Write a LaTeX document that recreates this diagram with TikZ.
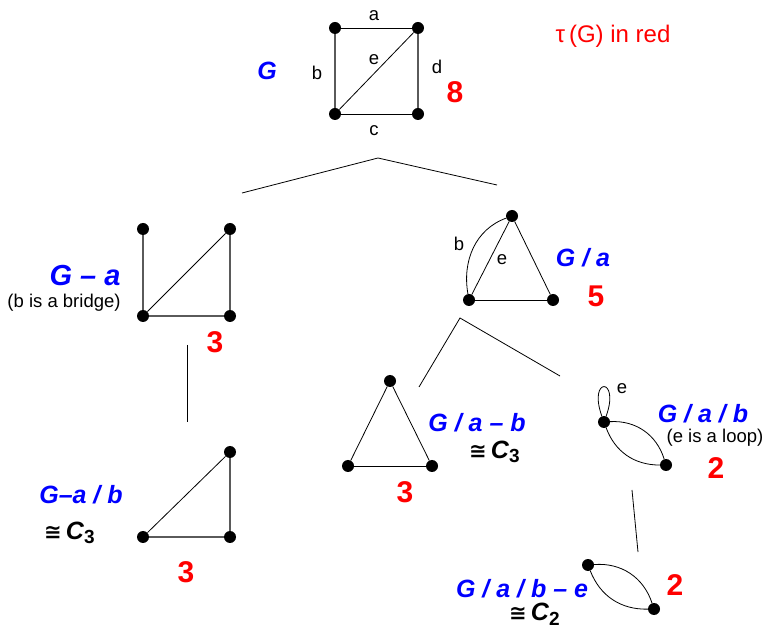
\documentclass[tikz,border=0pt]{standalone}
\usepackage{fontspec}
\setmainfont{Liberation Sans}
\newfontfamily\dejavu{DejaVu Sans}
\definecolor{pblue}{RGB}{0,0,255}
\definecolor{pred}{RGB}{255,0,0}
\definecolor{edgegray}{RGB}{90,90,90}
\tikzset{
  vtx/.style={circle,fill=black,inner sep=0pt,minimum size=12pt},
  gedge/.style={draw=edgegray,line width=1.3pt},
  tedge/.style={draw=black,line width=0.8pt},
  tree/.style={draw=black,line width=0.8pt},
  elab/.style={font=\fontsize{18.5}{20}\selectfont,inner sep=0pt},
  glabel/.style={font=\fontsize{25}{28}\selectfont\bfseries\itshape,text=pblue,inner sep=0pt},
  cnt/.style={font=\fontsize{30}{32}\selectfont\bfseries,text=pred,inner sep=0pt},
  note/.style={font=\fontsize{18.5}{20}\selectfont,inner sep=0pt},
  iso/.style={font=\fontsize{25}{28}\selectfont\bfseries\itshape,inner sep=0pt}
}
\newcommand{\isoC}[1]{{\dejavu\upshape\bfseries\fontsize{21}{24}\selectfont ≅}\,C\raisebox{-0.35ex}{\upshape\fontsize{19}{20}\selectfont #1}}
\begin{document}
\begin{tikzpicture}[x=1pt,y=1pt]
\useasboundingbox (0,0) rectangle (764,-628);
% ---------- G ----------
\node[vtx] (g1) at (335,-28) {};
\node[vtx] (g2) at (418,-28) {};
\node[vtx] (g3) at (335,-114) {};
\node[vtx] (g4) at (418,-114) {};
\draw[tedge] (g1) -- (g2);
\draw[gedge] (g1) -- (g3);
\draw[tedge] (g3) -- (g4);
\draw[gedge] (g2) -- (g4);
\draw[tedge] (g3) -- (g2);
\node[elab] (la) at (374,-16) {a};
\node[elab] (lb) at (317,-73) {b};
\node[elab] (le) at (374,-60) {e};
\node[elab] (ld) at (437,-67) {d};
\node[elab] (lc) at (374,-131) {c};
\node[glabel] (nG) at (267,-71) {G};
\node[cnt] (cG) at (455,-92) {8};
\node[font=\fontsize{24}{26}\selectfont,text=pred,inner sep=0pt] (tau) at (613,-36) {τ\,(G) in red};
% tree connector top
\coordinate (t0) at (378,-158);
\coordinate (t1) at (242,-193);
\coordinate (t2) at (497,-185);
\draw[tree] (t1) -- (t0) -- (t2);
% ---------- G - a ----------
\node[vtx] (a1) at (143,-229) {};
\node[vtx] (a2) at (230,-229) {};
\node[vtx] (a3) at (143,-316) {};
\node[vtx] (a4) at (230,-316) {};
\draw[gedge] (a1) -- (a3);
\draw[gedge] (a3) -- (a4);
\draw[gedge] (a2) -- (a4);
\draw[tedge] (a3) -- (a2);
\node[glabel,font=\fontsize{29}{32}\selectfont\bfseries\itshape] (nA) at (85,-276) {G – a};
\node[note] (bA) at (64,-303) {(b is a bridge)};
\node[cnt] (cA) at (215,-342) {3};
\coordinate (u1) at (187,-345);
\coordinate (u2) at (187,-422);
\draw[tree] (u1) -- (u2);
% ---------- G - a / b ----------
\node[vtx] (c1) at (230,-452) {};
\node[vtx] (c2) at (143,-537) {};
\node[vtx] (c3) at (230,-537) {};
\draw[tedge] (c2) -- (c1);
\draw[gedge] (c1) -- (c3);
\draw[gedge] (c2) -- (c3);
\node[glabel] (nC) at (81,-495) {G–a / b};
\node[iso,anchor=west] (iC) at (44,-533) {\isoC{3}};
\node[cnt] (cC) at (186,-572) {3};
% ---------- G / a ----------
\node[vtx] (b1) at (512,-216) {};
\node[vtx] (b2) at (469,-300) {};
\node[vtx] (b3) at (553,-300) {};
\draw[tedge] (b1) -- (b2);
\draw[tedge] (b1) -- (b3);
\draw[tedge] (b2) -- (b3);
\draw[tedge] (b1) to[out=200,in=100] (b2);
\node[elab] (lb2) at (459,-244) {b};
\node[elab] (le2) at (502,-260) {e};
\node[glabel] (nB) at (583,-258) {G / a};
\node[cnt] (cB) at (596,-296) {5};
\coordinate (v0) at (460,-318);
\coordinate (v1) at (419,-387);
\coordinate (v2) at (560,-376);
\draw[tree] (v1) -- (v0) -- (v2);
% ---------- G / a - b ----------
\node[vtx] (d1) at (390,-381) {};
\node[vtx] (d2) at (348,-466) {};
\node[vtx] (d3) at (432,-466) {};
\draw[tedge] (d1) -- (d2);
\draw[tedge] (d1) -- (d3);
\draw[tedge] (d2) -- (d3);
\node[glabel] (nD) at (477,-423) {G / a – b};
\node[iso,anchor=west] (iD) at (469,-452) {\isoC{3}};
\node[cnt] (cD) at (405,-492) {3};
% ---------- G / a / b ----------
\node[vtx] (e1) at (604,-422) {};
\node[vtx] (e2) at (666,-465) {};
\draw[tedge] (e1) to[bend left=38] (e2);
\draw[tedge] (e1) to[bend right=35] (e2);
\draw[tedge] (e1) to[out=110,in=70,min distance=42pt] (e1);
\node[elab] (le3) at (622,-389) {e};
\node[glabel] (nE) at (703,-414) {G / a / b};
\node[note] (bE) at (715,-438) {(e is a loop)};
\node[cnt] (cE) at (716,-468) {2};
\coordinate (w1) at (632,-490);
\coordinate (w2) at (638,-552);
\draw[tree] (w1) -- (w2);
% ---------- G / a / b - e ----------
\node[vtx] (f1) at (588,-565) {};
\node[vtx] (f2) at (654,-609) {};
\draw[tedge] (f1) to[bend left=38] (f2);
\draw[tedge] (f1) to[bend right=35] (f2);
\node[glabel] (nF) at (522,-589) {G / a / b – e};
\node[iso,anchor=west] (iF) at (509,-614) {\isoC{2}};
\node[cnt] (cF) at (675,-585) {2};
\end{tikzpicture}
\end{document}
